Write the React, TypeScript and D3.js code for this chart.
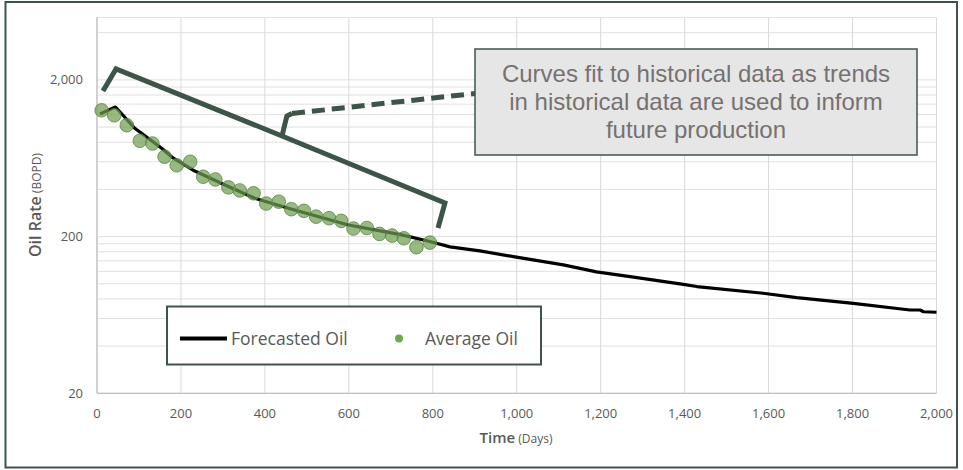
import React from "react";
import * as d3 from "d3";

// ---- data ----
const avgDays = [11, 41, 71, 102, 132, 161, 190, 222, 253, 282, 313, 340, 373, 403, 433, 463, 493, 522, 553, 582, 611, 643, 673, 703, 731, 761, 793];
const avgOil = [1279, 1188, 1027, 817, 785, 647, 570, 600, 482, 463, 412, 394, 378, 325, 334, 299, 292, 268, 262, 252, 225, 227, 208, 203, 195, 171, 183];

const fcDays = [7, 44, 90, 154, 181, 233, 305, 376, 456, 599, 726, 793, 841, 912, 992, 1111, 1190, 1270, 1397, 1429, 1587, 1667, 1802, 1937, 1961, 1969, 2000];
const fcOil = [1212, 1342, 982, 732, 635, 524, 427, 351, 303, 237, 205, 186, 172, 162, 149, 132, 119, 111, 99, 96, 87, 81.5, 75, 68, 68, 66.3, 65.8];

const xTicks = [0, 200, 400, 600, 800, 1000, 1200, 1400, 1600, 1800, 2000];
const yTicks = [20, 200, 2000];
const yDomain = [20, 5000];
const xDomain = [0, 2000];

const calloutLines = [
  "Curves fit to historical data as trends",
  "in historical data are used to inform",
  "future production",
];

// bracket annotation in data space [day, rate]
const bracketPts: [number, number][] = [[14.3, 1698], [45.3, 2348], [440.7, 877], [829, 328], [812.4, 227]];
const nubPts: [number, number][] = [[440.7, 877], [452.4, 1177], [464.6, 1221]];
const dashPts: [number, number][] = [[464.6, 1221], [900.5, 1638]];

export default function App() {
  const W = 963, H = 470;
  const x = d3.scaleLinear().domain(xDomain).range([97, 936.5]);
  const y = d3.scaleLog().domain(yDomain).range([393.3, 17.5]);

  const minor: number[] = [];
  for (let dec = 20; dec < 5000; dec *= 10) {
    for (let k = 1; k <= 9; k++) {
      const v = dec * k;
      if (v <= 5000) minor.push(v);
    }
  }
  minor.push(5000);

  const line = d3.line<[number, number]>().x(d => x(d[0])).y(d => y(d[1]));
  const fc: [number, number][] = fcDays.map((d, i) => [d, fcOil[i]]);
  const fmt = d3.format(",");
  const gray = "#595959";
  const dark = "#3d5548";
  const font = "'Open Sans', sans-serif";

  return (
    <div style={{ position: "absolute", left: 0, top: 0 }}>
      <svg width={W} height={H} style={{ display: "block", background: "#fff" }}>
        <rect x={0} y={0} width={W} height={H} fill="#fff" />
        {/* gridlines */}
        {minor.map(v => (
          <line key={"h" + v} x1={x(0)} x2={x(2000)} y1={y(v)} y2={y(v)} stroke="#e0e0e0" strokeWidth={1} />
        ))}
        {xTicks.map(t => (
          <line key={"v" + t} x1={x(t)} x2={x(t)} y1={y(5000)} y2={y(20)} stroke="#d9d9d9" strokeWidth={1} />
        ))}
        <line x1={x(0)} x2={x(2000)} y1={y(20)} y2={y(20)} stroke="#bfbfbf" strokeWidth={1.2} />
        <line x1={x(0)} x2={x(0)} y1={y(5000)} y2={y(20)} stroke="#bfbfbf" strokeWidth={1.2} />

        {/* tick labels */}
        {yTicks.map(t => (
          <text key={"yt" + t} x={83} y={y(t)} dy="0.35em" textAnchor="end" fontFamily={font} fontSize={13} fill={gray}>{fmt(t)}</text>
        ))}
        {xTicks.map(t => (
          <text key={"xt" + t} x={x(t)} y={413} dy="0.35em" textAnchor="middle" fontFamily={font} fontSize={13} fill={gray}>{fmt(t)}</text>
        ))}

        {/* axis titles */}
        <text x={516} y={437} dy="0.35em" textAnchor="middle" fontFamily={font} fill={gray}>
          <tspan fontSize={15} fontWeight={600}>Time</tspan>
          <tspan fontSize={12}> (Days)</tspan>
        </text>
        <text transform="translate(35,205) rotate(-90)" dy="0.35em" textAnchor="middle" fontFamily={font} fill={gray}>
          <tspan fontSize={16} fontWeight={600}>Oil Rate</tspan>
          <tspan fontSize={12}> (BOPD)</tspan>
        </text>

        {/* forecast line */}
        <path d={line(fc) || ""} fill="none" stroke="#000" strokeWidth={3.2} strokeLinejoin="round" />

        {/* average points */}
        {avgDays.map((d, i) => (
          <circle key={"p" + i} cx={x(d)} cy={y(avgOil[i])} r={6.8} fill="#6f9f52" fillOpacity={0.72} stroke="#5a8342" strokeWidth={1} strokeOpacity={0.8} />
        ))}

        {/* bracket annotation */}
        <path d={line(bracketPts) || ""} fill="none" stroke={dark} strokeWidth={5} strokeLinejoin="miter" />
        <path d={line(nubPts) || ""} fill="none" stroke={dark} strokeWidth={5} strokeLinejoin="round" />
        <path d={line(dashPts) || ""} fill="none" stroke={dark} strokeWidth={5} strokeDasharray="13,7" />

        {/* callout */}
        <rect x={475} y={49} width={442} height={106} fill="#e7e6e6" stroke={dark} strokeWidth={1.5} />
        {calloutLines.map((s, i) => (
          <text key={"c" + i} x={696} y={82 + i * 28} textAnchor="middle" fontFamily="'Liberation Sans', Arial, sans-serif" fontSize={24} fill="#767171">{s}</text>
        ))}

        {/* legend */}
        <rect x={167} y={306.5} width={374} height={58} fill="#fff" stroke={dark} strokeWidth={2} />
        <line x1={180} x2={227} y1={338.5} y2={338.5} stroke="#000" strokeWidth={4} />
        <text x={231} y={338.5} dy="0.35em" fontFamily={font} fontSize={17.5} fill={gray}>Forecasted Oil</text>
        <circle cx={399} cy={338.5} r={4} fill="#70a84e" />
        <text x={425} y={338.5} dy="0.35em" fontFamily={font} fontSize={17.5} fill={gray}>Average Oil</text>

        {/* outer frame */}
        <rect x={5.5} y={2} width={951.5} height={465.5} fill="none" stroke={dark} strokeWidth={2} />
      </svg>
    </div>
  );
}
